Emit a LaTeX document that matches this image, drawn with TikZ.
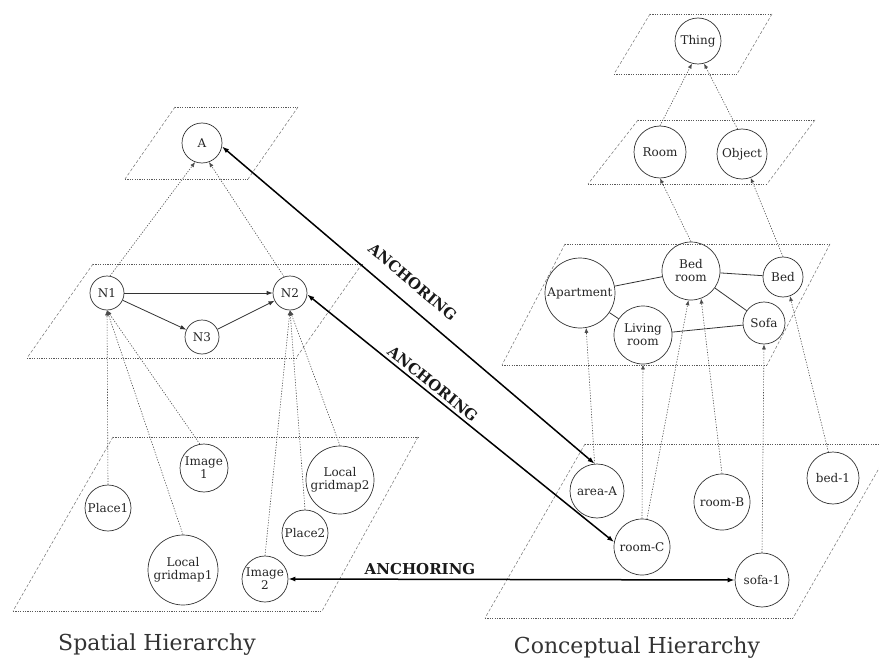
\documentclass[tikz,border=0pt]{standalone}
\usepackage{fontspec}
\setmainfont{DejaVu Serif}
\usetikzlibrary{arrows.meta}
\begin{document}
\begin{tikzpicture}[x=1pt,y=-1pt,
  nd/.style={circle,draw=black!80,line width=0.7pt,inner sep=0pt,align=center,
    font=\fontsize{12}{13}\selectfont,text=black!85},
  pedge/.style={draw=black!65,line width=0.6pt,dash pattern=on 1.2pt off 1.2pt},
  pside/.style={draw=black!55,line width=0.5pt,dash pattern=on 3pt off 2pt},
  dep/.style={draw=black!70,line width=0.6pt,dash pattern=on 1.2pt off 1.5pt,
    -{Latex[length=5pt,width=4pt]}},
  rel/.style={draw=black!80,line width=0.8pt},
  relarr/.style={rel,-{Latex[length=6pt,width=4.5pt]}},
  anch/.style={draw=black,line width=1.5pt,
    {Latex[length=7pt,width=5pt]}-{Latex[length=7pt,width=5pt]}},
  lab/.style={font=\fontsize{15}{15}\bfseries\selectfont,text=black!90,inner sep=2pt},
  ttl/.style={font=\fontsize{22}{22}\selectfont,text=black!80}
]
\clip (0,0) rectangle (879,661);
\fill[white] (0,0) rectangle (879,661);

% planes (left)
\draw[pedge] (175,107) -- (298,107) (125,179) -- (248,179);
\draw[pside] (175,107) -- (125,179) (298,107) -- (248,179);
\draw[pedge] (93,264) -- (362,264) (27,358) -- (296,358);
\draw[pside] (93,264) -- (27,358) (362,264) -- (296,358);
\draw[pedge] (113,437) -- (418,437) (13,611) -- (322,611);
\draw[pside] (113,437) -- (13,611) (418,437) -- (322,611);
% planes (right)
\draw[pedge] (650,14) -- (772,14) (614,74) -- (737,74);
\draw[pside] (650,14) -- (614,74) (772,14) -- (737,74);
\draw[pedge] (638,120) -- (815,120) (588,184) -- (767,184);
\draw[pside] (638,120) -- (588,184) (815,120) -- (767,184);
\draw[pedge] (565,244) -- (830,244) (502,365) -- (767,365);
\draw[pside] (565,244) -- (502,365) (830,244) -- (767,365);
\draw[pedge] (585,444) -- (893,444) (485,618) -- (793,618);
\draw[pside] (585,444) -- (485,618) (893,444) -- (793,618);

% nodes left
\node[nd,minimum size=40pt] (A) at (202,143) {A};
\node[nd,minimum size=34pt] (N1) at (107,293) {N1};
\node[nd,minimum size=34pt] (N2) at (290,293) {N2};
\node[nd,minimum size=34pt] (N3) at (202,337) {N3};
\node[nd,minimum size=46pt] (P1) at (108,508) {Place1};
\node[nd,minimum size=48pt] (I1) at (204,468) {Image\\1};
\node[nd,minimum size=70pt] (G1) at (183,570) {Local\\gridmap1};
\node[nd,minimum size=46pt] (I2) at (265,579) {Image\\2};
\node[nd,minimum size=46pt] (P2) at (305,533) {Place2};
\node[nd,minimum size=68pt] (G2) at (340,480) {Local\\gridmap2};

% nodes right
\node[nd,minimum size=46pt] (Th) at (698,41) {Thing};
\node[nd,minimum size=52pt] (Ro) at (660,152) {Room};
\node[nd,minimum size=50pt] (Ob) at (742,154) {Object};
\node[nd,minimum size=70pt] (Ap) at (580,293) {Apartment};
\node[nd,minimum size=58pt] (Br) at (691,271) {Bed\\room};
\node[nd,minimum size=40pt] (Be) at (783,277) {Bed};
\node[nd,minimum size=58pt] (Lr) at (643,335) {Living\\room};
\node[nd,minimum size=42pt] (So) at (764,323) {Sofa};
\node[nd,minimum size=54pt] (aA) at (597,491) {area-A};
\node[nd,minimum size=56pt] (rB) at (722,502) {room-B};
\node[nd,minimum size=52pt] (b1) at (833,478) {bed-1};
\node[nd,minimum size=56pt] (rC) at (642,547) {room-C};
\node[nd,minimum size=54pt] (s1) at (762,580) {sofa-1};

% left relations
\draw[relarr] (N1) -- (N2);
\draw[relarr] (N1) -- (N3);
\draw[relarr] (N3) -- (N2);

% left hierarchy
\draw[dep] (N1.80) -- (A.250);
\draw[dep] (N2.110) -- (A.290);
\draw[dep] (P1.north) -- (N1.south);
\draw[dep] (I1.100) -- (N1.south);
\draw[dep] (G1.north) -- (N1.south);
\draw[dep] (I2.north) -- (N2.south);
\draw[dep] (P2.north) -- (N2.south);
\draw[dep] (G2.north) -- (N2.south);

% right relations
\draw[rel] (Ap) -- (Br);
\draw[rel] (Ap) -- (Lr);
\draw[rel] (Br) -- (Be);
\draw[rel] (Br) -- (So);
\draw[rel] (Lr) -- (So);

% right hierarchy
\draw[dep] (Ro.north) -- (Th.255);
\draw[dep] (Ob.100) -- (Th.285);
\draw[dep] (Br.north) -- (Ro.south);
\draw[dep] (Be.north) -- (Ob.290);
\draw[dep] (aA.95) -- (Ap.280);
\draw[dep] (rC.90) -- (Lr.south);
\draw[dep] (rC.80) -- (Br.265);
\draw[dep] (rB.north) -- (Br.290);
\draw[dep] (s1.north) -- (So.south);
\draw[dep] (b1.100) -- (Be.290);

% anchoring
\draw[anch] (A.-10) -- node[lab,sloped,above=12pt,pos=0.476] {ANCHORING} (aA.95);
\draw[anch] (N2.-5) -- node[lab,sloped,above=1pt,pos=0.39] {ANCHORING} (rC.170);
\draw[anch] (I2.east) -- node[lab,above=2pt,pos=0.295] {ANCHORING} (s1.west);

% titles
\node[ttl] (t1) at (157,645) {Spatial Hierarchy};
\node[ttl] (t2) at (637,648) {Conceptual Hierarchy};
\end{tikzpicture}
\end{document}
